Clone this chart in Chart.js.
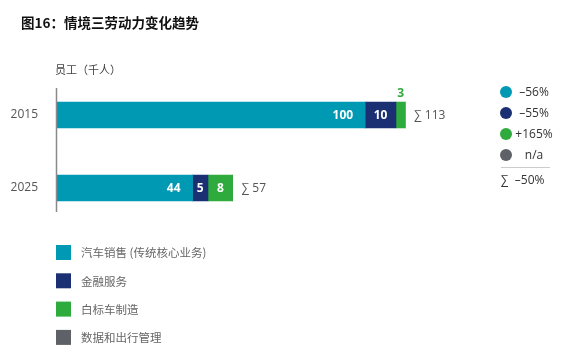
<!DOCTYPE html>
<html>
<head>
<meta charset="utf-8">
<script src="https://cdn.jsdelivr.net/npm/chart.js@4"></script>
<style>
  html, body { margin: 0; padding: 0; background: #fff; }
  #wrap { width: 567px; height: 360px; position: relative; }
</style>
</head>
<body>
<div id="wrap"><canvas id="myChart" width="567" height="360"></canvas></div>
<script>
// data
const years = ['2015', '2025'];
const autoSales = [100, 44];     // 汽车销售 (传统核心业务)
const finance = [10, 5];         // 金融服务
const whiteLabel = [3, 8];       // 白标车制造
const mobility = [0, 0];         // 数据和出行管理
const totals = [113, 57];
const seriesNames = ['汽车销售 (传统核心业务)', '金融服务', '白标车制造', '数据和出行管理'];
const changes = ['\u201356%', '\u201355%', '+165%', 'n/a'];
const totalChange = '\u201350%';

const colors = ['#0099b3', '#1b2f73', '#2eab3c', '#5f6169'];
const FONT = '"Open Sans", "Noto Sans CJK SC", sans-serif';

const extras = {
    id: 'extras',
    afterDraw(chart) {
        const ctx = chart.ctx;
        const area = chart.chartArea;
        ctx.save();

        // title + unit
        ctx.fillStyle = '#111';
        ctx.font = 'bold 13.5px "Noto Sans CJK SC", sans-serif';
        ctx.textBaseline = 'middle';
        ctx.textAlign = 'left';
        ctx.fillText('图16：情境三劳动力变化趋势', 21, 23);
        ctx.fillStyle = '#444';
        ctx.font = '11px "Noto Sans CJK SC", sans-serif';
        ctx.fillText('员工（千人）', 55, 70);

        // axis line
        const m0 = chart.getDatasetMeta(0);
        const first = m0.data[0], last = m0.data[m0.data.length - 1];
        ctx.strokeStyle = '#8a8a8a';
        ctx.lineWidth = 1.5;
        ctx.beginPath();
        ctx.moveTo(area.left - 0.5, first.y - 27);
        ctx.lineTo(area.left - 0.5, last.y + 24);
        ctx.stroke();

        // value labels
        ctx.font = 'bold 12px ' + FONT;
        chart.data.datasets.forEach((ds, di) => {
            const meta = chart.getDatasetMeta(di);
            meta.data.forEach((bar, i) => {
                const v = ds.data[i];
                if (!v) return;
                const w = bar.x - bar.base;
                if (di === 0) {
                    ctx.fillStyle = '#fff';
                    ctx.textAlign = 'right';
                    ctx.fillText(String(v), bar.x - 12, bar.y + 1);
                } else if (w < 12) {
                    ctx.fillStyle = ds.backgroundColor;
                    ctx.textAlign = 'center';
                    ctx.fillText(String(v), (bar.x + bar.base) / 2, bar.y - 21);
                } else {
                    ctx.fillStyle = '#fff';
                    ctx.textAlign = 'center';
                    ctx.fillText(String(v), (bar.x + bar.base) / 2, bar.y + 1);
                }
            });
        });

        // totals
        ctx.font = '12px ' + FONT;
        ctx.fillStyle = '#555';
        ctx.textAlign = 'left';
        const xs = chart.scales.x;
        totals.forEach((t, i) => {
            const x = xs.getPixelForValue(t) + 9;
            ctx.fillText('\u2211 ' + t, x, m0.data[i].y + 1);
        });

        // right legend (change %)
        const ly = [92, 113, 134, 155];
        ctx.font = '12px ' + FONT;
        changes.forEach((c, i) => {
            ctx.fillStyle = colors[i];
            ctx.beginPath();
            ctx.arc(506, ly[i], 6, 0, Math.PI * 2);
            ctx.fill();
            ctx.fillStyle = '#333';
            ctx.textAlign = 'center';
            ctx.fillText(c, 534, ly[i] + 1);
        });
        ctx.strokeStyle = '#ccc';
        ctx.lineWidth = 1;
        ctx.beginPath();
        ctx.moveTo(501, 167.5);
        ctx.lineTo(550, 167.5);
        ctx.stroke();
        ctx.fillStyle = '#333';
        ctx.textAlign = 'left';
        ctx.fillText('\u2211  ' + totalChange, 501, 181);

        // bottom legend
        ctx.font = '11.5px "Noto Sans CJK SC", sans-serif';
        seriesNames.forEach((n, i) => {
            const y = 245 + i * 28.3;
            ctx.fillStyle = colors[i];
            ctx.fillRect(56, y, 15, 15);
            ctx.fillStyle = '#666';
            ctx.fillText(n, 81, y + 8);
        });
        ctx.restore();
    }
};

const ctx = document.getElementById('myChart');
new Chart(ctx, {
    type: 'bar',
    data: {
        labels: years,
        datasets: [
            { label: seriesNames[0], data: autoSales, backgroundColor: colors[0] },
            { label: seriesNames[1], data: finance, backgroundColor: colors[1] },
            { label: seriesNames[2], data: whiteLabel, backgroundColor: colors[2] },
            { label: seriesNames[3], data: mobility, backgroundColor: colors[3] }
        ]
    },
    options: {
        indexAxis: 'y',
        responsive: false,
        animation: false,
        datasets: { bar: { barThickness: 26, borderWidth: 0 } },
        layout: { padding: { left: 0, right: 17, top: 78.5, bottom: 135.5 } },
        plugins: { legend: { display: false }, tooltip: { enabled: false } },
        scales: {
            x: { stacked: true, min: 0, max: 160, display: false },
            y: {
                stacked: true,
                grid: { display: false },
                border: { display: false },
                ticks: { color: '#555', padding: 11, font: { size: 12, family: FONT } },
                afterFit(scale) { scale.width = 57; }
            }
        }
    },
    plugins: [extras]
});
</script>
</body>
</html>
